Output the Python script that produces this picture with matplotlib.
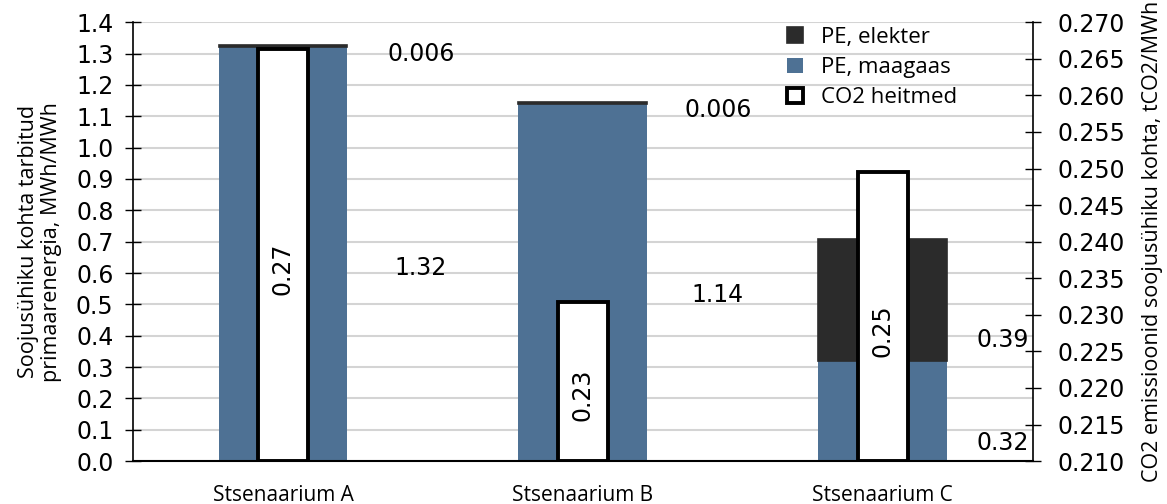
import matplotlib.pyplot as plt
import numpy as np

# values
scenarios = ["Stsenaarium A", "Stsenaarium B", "Stsenaarium C"]
pe_maagaas = [1.32, 1.14, 0.32]
pe_elekter = [0.006, 0.006, 0.39]
co2 = [0.2664, 0.2318, 0.2495]
maagaas_labels = ["1.32", "1.14", "0.32"]
elekter_labels = ["0.006", "0.006", "0.39"]
co2_labels = ["0.27", "0.23", "0.25"]

# label placement (left-axis units), as in the picture
maagaas_label_y = [0.615, 0.53, 0.057]
elekter_label_y = [1.30, 1.12, 0.386]
label_dx = [0.46, 0.45, 0.40]

BLUE = "#4e7194"
DARK = "#2b2b2b"
SANS = "Open Sans"
NUM = "DejaVu Sans"
NUMSIZE = 17

fig = plt.figure(figsize=(11.67, 5.04), dpi=100)
ax = fig.add_axes([0.114, 0.085, 0.771, 0.871])
x = np.arange(len(scenarios))

ax.bar(x, pe_maagaas, width=0.43, color=BLUE, zorder=2, label="PE, maagaas")
ax.bar(x, pe_elekter, width=0.43, bottom=pe_maagaas, color=DARK, edgecolor=DARK,
       linewidth=1.2, zorder=2, label="PE, elekter")

ax.set_xlim(-0.5, 2.5)
ax.set_ylim(0, 1.4)
ax.set_yticks(np.arange(0, 1.41, 0.1))
ax.yaxis.set_major_formatter(plt.FormatStrFormatter("%.1f"))
ax.grid(axis="y", color="#d4d4d4", linewidth=1.5, zorder=0)
ax.set_axisbelow(True)
ax.set_xticks(x)
ax.set_xticklabels(scenarios, fontsize=15, family=SANS)
ax.tick_params(axis="x", length=0, pad=17)
ax.tick_params(axis="y", direction="inout", length=12, width=1,
               labelsize=NUMSIZE, pad=8)
for s in ["top", "right"]:
    ax.spines[s].set_visible(False)
ax.spines["left"].set_linewidth(1.2)
ax.spines["bottom"].set_linewidth(1.5)
ax.set_ylabel("Soojusühiku kohta tarbitud\nprimaarenergia, MWh/MWh",
              fontsize=15.5, family=SANS, linespacing=1.1, labelpad=10)

for i in range(len(x)):
    ax.text(x[i] + label_dx[i], maagaas_label_y[i], maagaas_labels[i],
            ha="center", va="center", fontsize=NUMSIZE, family=NUM, zorder=5)
    ax.text(x[i] + label_dx[i], elekter_label_y[i], elekter_labels[i],
            ha="center", va="center", fontsize=NUMSIZE, family=NUM, zorder=5)

ax2 = ax.twinx()
ax2.set_ylim(0.210, 0.270)
ax2.set_yticks(np.arange(0.210, 0.2701, 0.005))
ax2.yaxis.set_major_formatter(plt.FormatStrFormatter("%.3f"))
ax2.bar(x, np.array(co2) - 0.210, width=0.167, bottom=0.210, color="white",
        edgecolor="black", linewidth=2.8, zorder=3, label="CO2 heitmed")
for i in range(len(x)):
    ax2.annotate(co2_labels[i], (x[i], (0.210 + co2[i]) / 2),
                 xytext=(0, -10), textcoords="offset points", rotation=90,
                 ha="center", va="center", fontsize=NUMSIZE, family=NUM)
for s in ["top", "left", "bottom"]:
    ax2.spines[s].set_visible(False)
ax2.spines["right"].set_linewidth(1.2)
ax2.tick_params(axis="y", direction="inout", length=12, width=1,
                labelsize=NUMSIZE, pad=12)
ax2.set_ylabel("CO2 emissioonid soojusühiku kohta, tCO2/MWh",
               fontsize=15.5, family=SANS, labelpad=12)

h1, l1 = ax.get_legend_handles_labels()
h2, l2 = ax2.get_legend_handles_labels()
handles = [h1[1], h1[0], h2[0]]
labels = [l1[1], l1[0], l2[0]]
leg = ax2.legend(handles, labels, loc="upper left", bbox_to_anchor=(0.71, 1.025),
                 frameon=False, prop={"family": SANS, "size": 16},
                 handlelength=0.7, handleheight=0.7, handletextpad=0.8,
                 labelspacing=0.42, borderaxespad=0.3)

fig.savefig("out.png", dpi=100)
